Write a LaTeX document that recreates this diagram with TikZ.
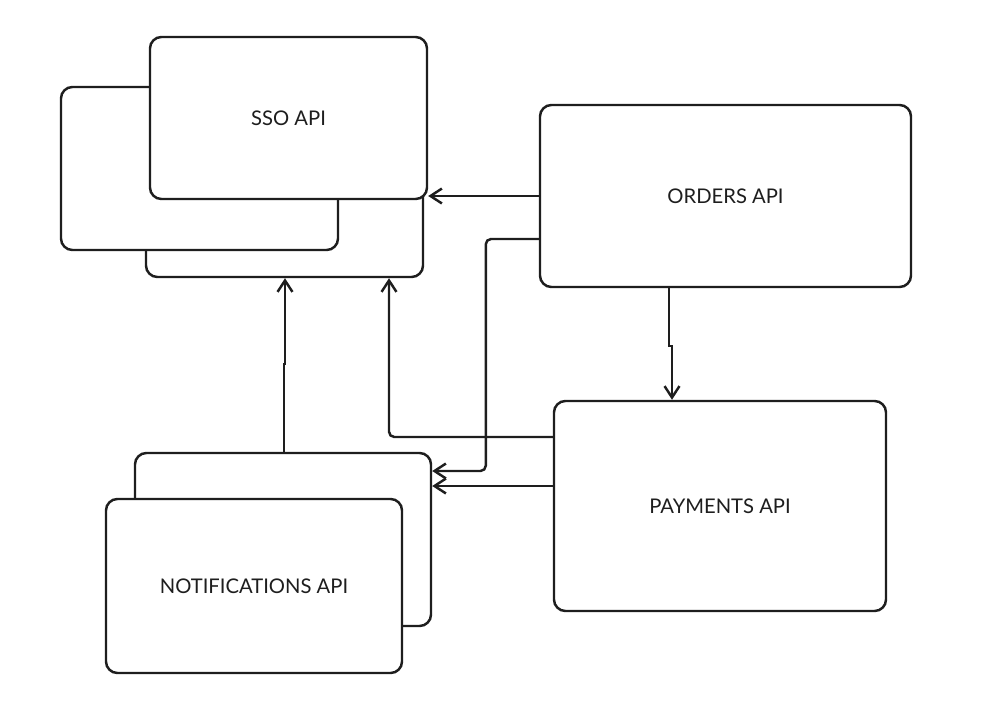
\documentclass[tikz,border=0pt]{standalone}
\usepackage{fontspec}
\setmainfont{Lato}
\usepackage{xcolor}
\usetikzlibrary{positioning,arrows.meta,calc}

\definecolor{ink}{HTML}{1E1E1E}

\tikzset{
  apibox/.style={draw=ink, fill=white, line width=1.4pt, rounded corners=6.5pt,
    inner sep=0pt, font=\fontsize{11.5}{13}\selectfont, text=ink},
  link/.style={draw=ink, line width=1.4pt, rounded corners=3pt,
    -{Straight Barb[length=6.5pt,width=8.5pt]}},
}

\begin{document}
\begin{tikzpicture}
    \useasboundingbox (0,0) rectangle (19.88,-14.06);

    % SSO stack
    \node[apibox, minimum width=5.54cm, minimum height=3.26cm] (ssoB2) at (5.69,-3.91) {};
    \node[apibox, minimum width=5.54cm, minimum height=3.26cm] (ssoB1) at (3.99,-3.37) {};
    \node[apibox, minimum width=5.54cm, minimum height=3.24cm] (sso) at (5.77,-2.36) {SSO API};

    % Orders and payments
    \node[apibox, minimum width=7.42cm, minimum height=3.64cm] (orders) at (14.51,-3.92) {ORDERS API};
    \node[apibox, minimum width=6.64cm, minimum height=4.20cm] (pay) at (14.40,-10.12) {PAYMENTS API};

    % Notifications stack
    \node[apibox, minimum width=5.92cm, minimum height=3.46cm] (notifB) at (5.66,-10.79) {};
    \node[apibox, minimum width=5.92cm, minimum height=3.48cm] (notif) at (5.08,-11.72) {NOTIFICATIONS API};

    % Calls
    \draw[link] (orders.west) -- (orders.west -| sso.east);
    \draw[link] ([yshift=-0.86cm]orders.west) -- ++(-1.06,0) |- ([yshift=1.37cm]notifB.east);
    \draw[link, sharp corners] ([xshift=-1.13cm]orders.south) -- ++(0,-1.16) -| ([xshift=-0.96cm]pay.north);
    \draw[link] ([yshift=1.38cm]pay.west) -| ([xshift=2.09cm]ssoB2.south);
    \draw[link] ([yshift=0.40cm]pay.west) -- ([yshift=0.40cm]pay.west -| notifB.east);
    \draw[link, sharp corners] ([xshift=0.02cm]notifB.north) -- ++(0,1.76) -| ([xshift=0.01cm]ssoB2.south);
\end{tikzpicture}
\end{document}
